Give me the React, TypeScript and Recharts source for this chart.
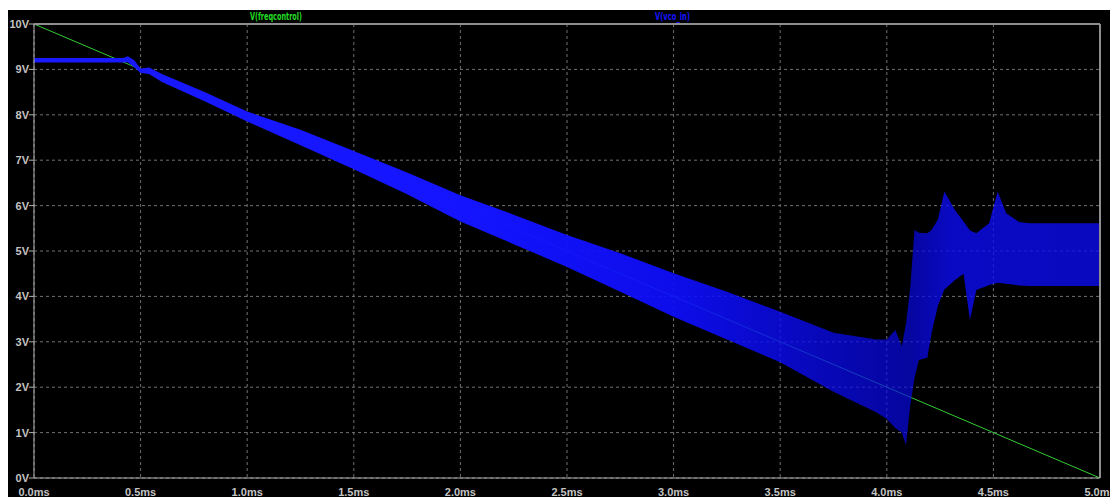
import React from "react";
import {
  ComposedChart,
  Area,
  XAxis,
  YAxis,
  CartesianGrid,
  ReferenceLine,
} from "recharts";

// ---- tick labels ----
const timeTicksMs = [0, 0.5, 1, 1.5, 2, 2.5, 3, 3.5, 4, 4.5, 5];
const voltTicks = [0, 1, 2, 3, 4, 5, 6, 7, 8, 9, 10];

// ---- V(freqcontrol): linear ramp ----
const freqControlTimeMs = [0, 5];
const freqControlVolts = [10, 0];

// ---- V(vco_in): envelope of the dense oscillation (low / high) ----
const vcoTimeMs = [
  0.0, 0.42, 0.44, 0.47, 0.5, 0.54, 0.6, 0.8, 1.0, 1.25, 1.5, 1.75, 2.0, 2.25,
  2.5, 2.75, 3.0, 3.25, 3.5, 3.75, 3.95, 4.0, 4.04, 4.07, 4.09, 4.11, 4.13,
  4.15, 4.19, 4.21, 4.24, 4.27, 4.32, 4.36, 4.39, 4.42, 4.48, 4.52, 4.56, 4.62,
  4.67, 5.0,
];
const vcoLowVolts = [
  9.15, 9.15, 9.16, 9.05, 8.92, 8.9, 8.72, 8.3, 7.85, 7.33, 6.8, 6.25, 5.65,
  5.15, 4.65, 4.1, 3.55, 3.05, 2.55, 1.9, 1.45, 1.3, 1.1, 1.0, 0.72, 1.6, 2.2,
  2.6, 2.65, 3.2, 3.8, 4.15, 4.36, 4.5, 3.48, 4.14, 4.25, 4.3, 4.28, 4.24,
  4.23, 4.23,
];
const vcoHighVolts = [
  9.25, 9.25, 9.29, 9.2, 9.02, 9.04, 8.9, 8.5, 8.07, 7.67, 7.2, 6.73, 6.23,
  5.8, 5.35, 4.95, 4.51, 4.1, 3.66, 3.2, 3.05, 3.05, 3.26, 2.9, 3.4, 4.2, 5.46,
  5.4, 5.39, 5.46, 5.7, 6.31, 5.9, 5.65, 5.45, 5.39, 5.61, 6.31, 5.83, 5.64,
  5.61, 5.61,
];

const freqData = freqControlTimeMs.map((t, i) => ({ t, v: freqControlVolts[i] }));
const vcoData = vcoTimeMs.map((t, i) => ({
  t,
  range: [vcoLowVolts[i], vcoHighVolts[i]],
}));

const FONT = "'Liberation Sans', Arial, Helvetica, sans-serif";
const NARROW =
  "'Liberation Sans Narrow', 'Arial Narrow', 'DejaVu Sans Condensed', sans-serif";
const TICK_COLOR = "#c4c4c4";

const XTick = (props: any) => {
  const { x, y, payload } = props;
  return (
    <text
      x={x}
      y={y + 10}
      textAnchor="middle"
      fill={TICK_COLOR}
      fontSize={11}
      fontWeight="bold"
      fontFamily={FONT}
    >
      {Number(payload.value).toFixed(1)}ms
    </text>
  );
};

const YTick = (props: any) => {
  const { x, y, payload } = props;
  return (
    <text
      x={x}
      y={y + 4}
      textAnchor="end"
      fill={TICK_COLOR}
      fontSize={11}
      fontWeight="bold"
      fontFamily={FONT}
    >
      {payload.value}V
    </text>
  );
};

export default function App() {
  const W = 1102;
  const H = 487;
  return (
    <div
      style={{
        position: "absolute",
        left: 8,
        top: 10,
        width: W,
        height: H,
        background: "#000",
        overflow: "hidden",
      }}
    >
      <ComposedChart
        width={W}
        height={H}
        margin={{ top: 14, right: 10, bottom: 0, left: 0 }}
      >
        <defs>
          <linearGradient id="vcoFill" x1="0" y1="0" x2="1" y2="0">
            <stop offset="0%" stopColor="#1a1aff" stopOpacity={1} />
            <stop offset="40%" stopColor="#1414ff" stopOpacity={1} />
            <stop offset="60%" stopColor="#0e0eff" stopOpacity={0.92} />
            <stop offset="75%" stopColor="#0a0af2" stopOpacity={0.75} />
            <stop offset="82%" stopColor="#0808ea" stopOpacity={0.68} />
            <stop offset="86%" stopColor="#0c0cf5" stopOpacity={0.8} />
            <stop offset="100%" stopColor="#0c0cf5" stopOpacity={0.78} />
          </linearGradient>
        </defs>
        <CartesianGrid stroke="#707070" strokeDasharray="3 3" />
        <XAxis
          dataKey="t"
          type="number"
          domain={[0, 5]}
          ticks={timeTicksMs}
          allowDataOverflow
          height={19}
          tickLine={false}
          tickSize={6}
          tickMargin={2}
          axisLine={{ stroke: "#b0b0b0", strokeWidth: 1 }}
          tick={<XTick />}
          interval={0}
        />
        <YAxis
          type="number"
          domain={[0, 10]}
          ticks={voltTicks}
          allowDataOverflow
          width={26}
          tickSize={5}
          tickMargin={0}
          tickLine={{ stroke: "#b0b0b0" }}
          axisLine={{ stroke: "#b0b0b0", strokeWidth: 1 }}
          tick={<YTick />}
          interval={0}
        />
        <Area
          data={freqData}
          dataKey="v"
          type="linear"
          stroke="#33cc33"
          strokeWidth={1}
          fill="none"
          fillOpacity={0}
          dot={false}
          activeDot={false}
          isAnimationActive={false}
        />
        <Area
          data={vcoData}
          dataKey="range"
          type="linear"
          stroke="none"
          fill="url(#vcoFill)"
          fillOpacity={1}
          dot={false}
          activeDot={false}
          isAnimationActive={false}
        />
        <ReferenceLine y={10} stroke="#8e8e8e" strokeWidth={2} />
        <ReferenceLine x={5} stroke="#8e8e8e" strokeWidth={2} />
      </ComposedChart>
      <svg
        width={W}
        height={14}
        style={{ position: "absolute", left: 0, top: 0 }}
      >
        <text
          x={242}
          y={10}
          fill="#22dd22"
          fontSize={10.5}
          fontWeight="bold"
          fontFamily={NARROW}
          textLength={52}
          lengthAdjust="spacingAndGlyphs"
        >
          V(freqcontrol)
        </text>
        <text
          x={647}
          y={10}
          fill="#1515ff"
          fontSize={10.5}
          fontWeight="bold"
          fontFamily={NARROW}
          textLength={35}
          lengthAdjust="spacingAndGlyphs"
        >
          V(vco_in)
        </text>
      </svg>
    </div>
  );
}
